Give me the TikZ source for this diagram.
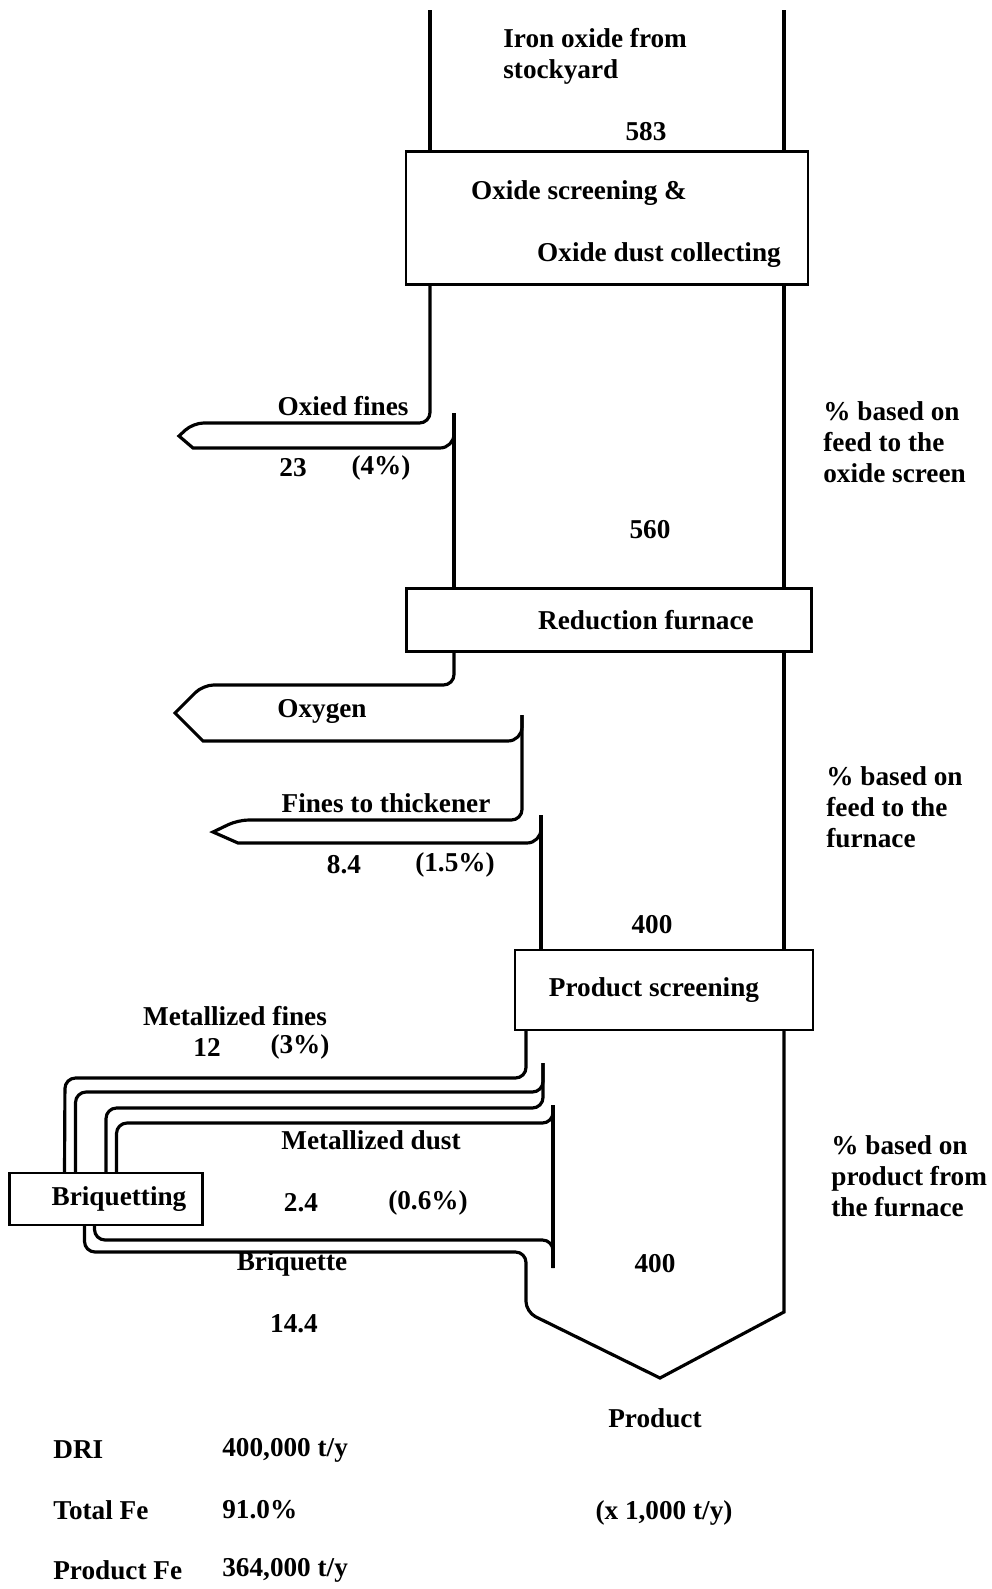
\documentclass[tikz,border=0pt]{standalone}
\usepackage{fontspec}
\setmainfont{Liberation Serif}
\usetikzlibrary{positioning}

\begin{document}
\begin{tikzpicture}[
    x=0.02cm, y=-0.02cm,
    lbl/.style={inner sep=0pt, font=\bfseries\fontsize{15.5}{17.6}\selectfont},
    note/.style={lbl, align=left, anchor=west},
    unit/.style={lbl, draw, line width=1.4pt, fill=white},
    wall/.style={line width=2pt},
    flow/.style={line width=1.8pt, rounded corners=6pt}
  ]
    \useasboundingbox (0,0) rectangle (991,1589);

    % process units
    \node[unit, minimum width=8.04cm, minimum height=2.66cm] (scr) at (607,218) {};
    \node[unit, minimum width=8.1cm, minimum height=1.26cm] (red) at (609,620)
        {\hspace*{1.48cm}Reduction furnace};
    \node[unit, minimum width=5.96cm, minimum height=1.6cm] (ps) at (664,990)
        {Product screening\hspace*{0.4cm}};
    \node[unit, minimum width=3.86cm, minimum height=1.04cm] (briq) at (106,1199)
        {\hspace*{0.52cm}Briquetting};
    \node[lbl] (scrA) at (579,193) {Oxide screening \&};
    \node[lbl] (scrB) at (659,255) {Oxide dust collecting};

    \coordinate (lw) at (430,10);
    \coordinate (rw) at (784,10);
    \coordinate (j1) at (454,413);
    \coordinate (j2) at (522,715);
    \coordinate (j3) at (541,815);
    \coordinate (j4) at (543,1063);
    \coordinate (j5) at (553,1105);
    \coordinate (j6) at (553,1268);
    \coordinate (pl) at (526,1312);
    \coordinate (tip1) at (179,436);
    \coordinate (tip2) at (175,713);
    \coordinate (tip3) at (213,832);
    \coordinate (tip) at (660,1378);

    % walls of the main stream
    \draw[wall] (lw) -- (lw |- scr.north);
    \draw[wall] (rw) -- (rw |- scr.north);
    \draw[wall] (scr.south -| rw) -- (red.north -| rw);
    \draw[wall] (red.south -| rw) -- (ps.north -| rw);
    \draw[wall] (j1) -- (j1 |- red.north);
    \draw[wall] (j3) -- (j3 |- ps.north);

    % side streams
    \draw[flow] (scr.south -| lw) |- (193,423) [sharp corners] -- (tip1) -- (193,448)
        [rounded corners=8pt] -| (j1);
    \draw[flow] (red.south -| j1) |- (203,685) [sharp corners] -- (tip2) -- (203,741)
        [rounded corners=8pt] -| (j2);
    \draw[flow] (j2) |- (238,820) [sharp corners] -- (tip3) -- (238,843)
        [rounded corners=8pt] -| (j3);

    % briquetting loop
    \draw[flow] (ps.south -| pl) |- (65,1078) -- ([xshift=-0.83cm]briq.north);
    \draw[flow] ([xshift=-0.61cm]briq.north) |- (543,1092) -- (j4);
    \draw[flow] (j4) |- (106,1108) -- (briq.north);
    \draw[flow] ([xshift=0.21cm]briq.north) |- (553,1123) -- (j5);
    \draw[wall] (j5) -- (j6);
    \draw[flow] ([xshift=-0.23cm]briq.south) |- (553,1240) -- (j6);
    \draw[flow] ([xshift=-0.43cm]briq.south) |- (526,1252) -- (pl)
        [sharp corners] -- (tip) -- (rw |- pl) -- (rw |- ps.south);

    % labels
    \node[note] (feed) at (503,56) {Iron oxide from\\stockyard};
    \node[lbl] (f583) at (646,132) {583};
    \node[lbl] (f560) at (650,530) {560};
    \node[lbl] (f400a) at (652,925) {400};
    \node[lbl] (f400b) at (655,1264) {400};
    \node[lbl] (ofines) at (343,406) {Oxied fines};
    \node[lbl] (q23) at (293,468) {23};
    \node[lbl] (p4) at (381,468) {(4\%)};
    \node[lbl] (oxy) at (322,711) {Oxygen};
    \node[lbl] (thick) at (386,803) {Fines to thickener};
    \node[lbl] (q84) at (344,865) {8.4};
    \node[lbl] (p15) at (455,865) {(1.5\%)};
    \node[lbl] (mfines) at (235,1016) {Metallized fines};
    \node[lbl] (q12) at (207,1047) {12};
    \node[lbl] (p3) at (300,1047) {(3\%)};
    \node[lbl] (mdust) at (371,1140) {Metallized dust};
    \node[lbl] (q24) at (301,1203) {2.4};
    \node[lbl] (p06) at (428,1203) {(0.6\%)};
    \node[lbl] (bqt) at (292,1264) {Briquette};
    \node[lbl] (q144) at (294,1324) {14.4};
    \node[lbl] (prod) at (655,1418) {Product};
    \node[lbl] (scale) at (664,1513) {(x 1,000 t/y)};
    \node[note] (basis1) at (823,442) {\% based on\\feed to the\\oxide screen};
    \node[note] (basis2) at (826,807) {\% based on\\feed to the\\furnace};
    \node[note] (basis3) at (831,1176) {\% based on\\product from\\the furnace};
    \node[note] (dri) at (53,1450) {DRI};
    \node[note] (totfe) at (53,1510) {Total Fe};
    \node[note] (prodfe) at (53,1570) {Product Fe};
    \node[note] (dri-v) at (222,1450) {400,000 t/y};
    \node[note] (totfe-v) at (222,1510) {91.0\%};
    \node[note] (prodfe-v) at (222,1570) {364,000 t/y};
  \end{tikzpicture}
\end{document}
